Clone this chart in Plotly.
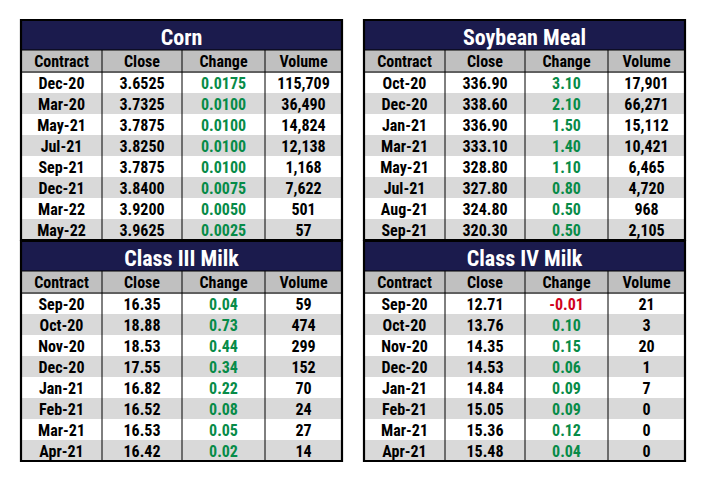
import plotly.graph_objects as go

W, H = 710, 483

NAVY = "#1b1b4d"
HEADER_GRAY = "#c0c0c0"
ROW_GRAY = "#d9d9d9"
GREEN = "#078b48"
RED = "#d0021b"
CLEAR = "rgba(0,0,0,0)"
FONT = "Roboto Condensed, Roboto, Arial"

COLUMNS = ["Contract", "Close", "Change", "Volume"]

corn_contract = ["Dec-20", "Mar-20", "May-21", "Jul-21", "Sep-21", "Dec-21", "Mar-22", "May-22"]
corn_close = ["3.6525", "3.7325", "3.7875", "3.8250", "3.7875", "3.8400", "3.9200", "3.9625"]
corn_change = ["0.0175", "0.0100", "0.0100", "0.0100", "0.0100", "0.0075", "0.0050", "0.0025"]
corn_volume = ["115,709", "36,490", "14,824", "12,138", "1,168", "7,622", "501", "57"]

meal_contract = ["Oct-20", "Dec-20", "Jan-21", "Mar-21", "May-21", "Jul-21", "Aug-21", "Sep-21"]
meal_close = ["336.90", "338.60", "336.90", "333.10", "328.80", "327.80", "324.80", "320.30"]
meal_change = ["3.10", "2.10", "1.50", "1.40", "1.10", "0.80", "0.50", "0.50"]
meal_volume = ["17,901", "66,271", "15,112", "10,421", "6,465", "4,720", "968", "2,105"]

c3_contract = ["Sep-20", "Oct-20", "Nov-20", "Dec-20", "Jan-21", "Feb-21", "Mar-21", "Apr-21"]
c3_close = ["16.35", "18.88", "18.53", "17.55", "16.82", "16.52", "16.53", "16.42"]
c3_change = ["0.04", "0.73", "0.44", "0.34", "0.22", "0.08", "0.05", "0.02"]
c3_volume = ["59", "474", "299", "152", "70", "24", "27", "14"]

c4_contract = ["Sep-20", "Oct-20", "Nov-20", "Dec-20", "Jan-21", "Feb-21", "Mar-21", "Apr-21"]
c4_close = ["12.71", "13.76", "14.35", "14.53", "14.84", "15.05", "15.36", "15.48"]
c4_change = ["-0.01", "0.10", "0.15", "0.06", "0.09", "0.09", "0.12", "0.04"]
c4_volume = ["21", "3", "20", "1", "7", "0", "0", "0"]

PANELS = [
    ("Corn", corn_contract, corn_close, corn_change, corn_volume, 21, 20),
    ("Soybean Meal", meal_contract, meal_close, meal_change, meal_volume, 364, 20),
    ("Class III Milk", c3_contract, c3_close, c3_change, c3_volume, 21, 241),
    ("Class IV Milk", c4_contract, c4_close, c4_change, c4_volume, 364, 241),
]

TABLE_W = 321
TITLE_H = 30
HEAD_H = 22
ROW_H = 21
COL_W = [81, 80, 83, 77]
TEXT_LIFT = 3.5  # plotly pads cell text from the top; lift text layer to centre it


def px_x(x):
    return x / W


def px_y(y):
    return 1 - y / H


fig = go.Figure()
shapes = []

for title, contract, close, change, volume, x0, y0 in PANELS:
    x1 = x0 + TABLE_W
    n = len(contract)
    row_fill = ["white" if i % 2 == 0 else ROW_GRAY for i in range(n)]
    change_color = [RED if v.startswith("-") else GREEN for v in change]

    # title bar
    fig.add_trace(go.Table(
        domain={"x": [px_x(x0), px_x(x1)], "y": [px_y(y0 + TITLE_H + 4), px_y(y0)]},
        header={
            "values": [title],
            "fill": {"color": NAVY},
            "line": {"color": NAVY, "width": 1},
            "font": {"family": FONT, "size": 22, "color": "white", "weight": "bold"},
            "align": "center",
            "height": TITLE_H,
        },
    ))

    top = y0 + TITLE_H
    bottom = top + HEAD_H + ROW_H * n

    # background layer: header and banded rows
    fig.add_trace(go.Table(
        domain={"x": [px_x(x0), px_x(x1)], "y": [px_y(bottom + 6), px_y(top)]},
        columnwidth=COL_W,
        header={
            "values": [""] * 4,
            "fill": {"color": HEADER_GRAY},
            "line": {"color": HEADER_GRAY, "width": 1},
            "height": HEAD_H,
        },
        cells={
            "values": [[""] * n] * 4,
            "fill": {"color": [row_fill] * 4},
            "line": {"color": [row_fill] * 4, "width": 1},
            "height": ROW_H,
        },
    ))

    # text layer
    fig.add_trace(go.Table(
        domain={"x": [px_x(x0), px_x(x1)],
                "y": [px_y(bottom + 6 - TEXT_LIFT), px_y(top - TEXT_LIFT)]},
        columnwidth=COL_W,
        header={
            "values": COLUMNS,
            "fill": {"color": CLEAR},
            "line": {"color": CLEAR, "width": 0},
            "font": {"family": FONT, "size": 16, "color": "black", "weight": "bold"},
            "align": "center",
            "height": HEAD_H,
        },
        cells={
            "values": [contract, close, change, volume],
            "fill": {"color": CLEAR},
            "line": {"color": CLEAR, "width": 0},
            "font": {
                "family": FONT,
                "size": 16,
                "color": ["black", "black", change_color, "black"],
                "weight": "bold",
            },
            "align": "center",
            "height": ROW_H,
        },
    ))

    # grid lines: column separators, header rules, outer frame
    line_thin = {"color": "black", "width": 1}
    xs = x0
    for w in COL_W[:-1]:
        xs += w
        shapes.append(dict(type="line", xref="paper", yref="paper",
                           x0=px_x(xs), x1=px_x(xs), y0=px_y(bottom), y1=px_y(top),
                           line=line_thin))
    for yy in (top, top + HEAD_H):
        shapes.append(dict(type="line", xref="paper", yref="paper",
                           x0=px_x(x0), x1=px_x(x1), y0=px_y(yy), y1=px_y(yy),
                           line=line_thin))
    shapes.append(dict(type="rect", xref="paper", yref="paper",
                       x0=px_x(x0), x1=px_x(x1), y0=px_y(bottom), y1=px_y(y0),
                       line={"color": "black", "width": 2.2}))

fig.update_layout(
    width=W,
    height=H,
    margin={"l": 0, "r": 0, "t": 0, "b": 0},
    paper_bgcolor="white",
    plot_bgcolor="white",
    shapes=shapes,
    showlegend=False,
)

fig.write_html("out.html", post_script="document.body.style.margin = '0';",
               config={"displayModeBar": False})
